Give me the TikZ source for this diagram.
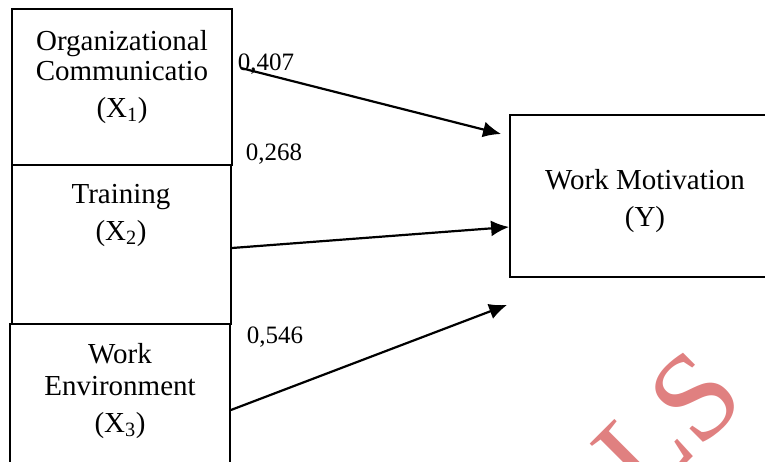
\documentclass[tikz,border=0pt]{standalone}
\usepackage{fontspec}
\setmainfont{Liberation Serif}
\usetikzlibrary{arrows.meta}
\definecolor{wm}{RGB}{224,128,128}
\begin{document}
\begin{tikzpicture}[x=1pt,y=-1pt,
  box/.style={draw,line width=1.8pt,inner sep=0pt},
  txt/.style={font=\fontsize{29}{33}\selectfont,anchor=base,inner sep=0pt},
  lbl/.style={font=\fontsize{25}{30}\selectfont,anchor=base,inner sep=0pt},
  arr/.style={line width=2.2pt,-{Latex[length=18pt,width=16pt]}}]
\useasboundingbox (0,0) rectangle (765,461);
% watermark
\node[text=wm,font=\fontsize{125}{130}\selectfont,rotate=45,anchor=base,inner sep=0pt] (wmark) at (665,485) {ALS};
% boxes
\node[box,minimum width=220pt,minimum height=156pt] (x1) at (122,87) {};
\node[box,minimum width=219pt,minimum height=159pt] (x2) at (121.5,244.5) {};
\node[box,minimum width=220pt,minimum height=160pt] (x3) at (120,404) {};
\node[box,minimum width=270pt,minimum height=162pt] (y) at (645,196) {};
% texts
\node[txt] (t1a) at (122,50) {Organizational};
\node[txt] (t1b) at (122,80) {Communicatio};
\node[txt] (t1c) at (122,117) {(X\textsubscript{1})};
\node[txt] (t2a) at (121,203) {Training};
\node[txt] (t2b) at (121,240) {(X\textsubscript{2})};
\node[txt] (t3a) at (120,363) {Work};
\node[txt] (t3b) at (120,395) {Environment};
\node[txt] (t3c) at (120,432) {(X\textsubscript{3})};
\node[txt] (tya) at (645,189) {Work Motivation};
\node[txt] (tyb) at (645,226) {(Y)};
% labels
\node[lbl] (l1) at (266,70) {0,407};
\node[lbl] (l2) at (274,160) {0,268};
\node[lbl] (l3) at (275,343) {0,546};
% arrows
\draw[arr] ([xshift=8pt,yshift=19pt]x1.east) -- ([xshift=-8pt,yshift=62pt]y.west);
\draw[arr] ([yshift=-3.5pt]x2.east) -- ([yshift=-31pt]y.west);
\draw[arr] ([yshift=-6pt]x3.east) -- ([xshift=-2pt,yshift=-27pt]y.south west);
\end{tikzpicture}
\end{document}
